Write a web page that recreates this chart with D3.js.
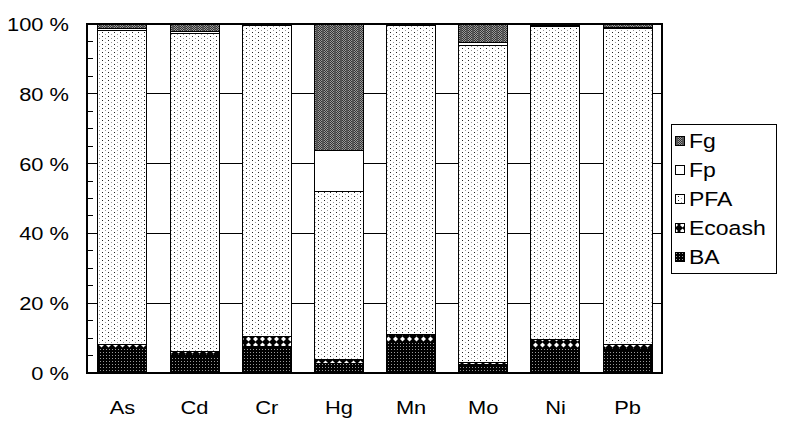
<!DOCTYPE html>
<html><head><meta charset="utf-8">
<script src="https://cdn.jsdelivr.net/npm/d3@7"></script>
<style>body{margin:0;background:#fff}svg{display:block}text{font-family:"Liberation Sans",Arial,sans-serif;fill:#000}</style>
</head><body><svg id="c" width="790" height="431"></svg>
<script>
const categories = ["As","Cd","Cr","Hg","Mn","Mo","Ni","Pb"];
const seriesNames = ["BA","Ecoash","PFA","Fp","Fg"];
const BA     = [7.1, 4.9, 7.5, 2.8, 8.8, 2.3, 7.1, 6.6];
const Ecoash = [1.0, 1.2, 2.9, 1.1, 2.1, 0.8, 2.4, 1.6];
const PFA    = [90.1,91.1,89.3,48.1,88.8,90.7,89.8,90.4];
const Fp     = [0.4, 0.6, 0.1, 11.7,0.1, 1.0, 0.2, 0.5];
const Fg     = [1.4, 2.2, 0.2, 36.3,0.2, 5.2, 0.5, 0.9];
const yTicks = [0,20,40,60,80,100];
const legendOrder = ["Fg","Fp","PFA","Ecoash","BA"];

const rows = categories.map((c,i)=>({cat:c,BA:BA[i],Ecoash:Ecoash[i],PFA:PFA[i],Fp:Fp[i],Fg:Fg[i]}));
const svg = d3.select("#c");
const L=87,R=662,T=24,B=373;
const x = d3.scaleBand().domain(categories).range([L,R+1]).paddingInner(0.32).paddingOuter(0.15);
const y = d3.scaleLinear().domain([0,100]).range([B,T]);

const defs = svg.append("defs");
function pat(id,w,h,bg,dots){
  const p=defs.append("pattern").attr("id",id).attr("patternUnits","userSpaceOnUse").attr("width",w).attr("height",h);
  p.append("rect").attr("width",w).attr("height",h).attr("fill",bg);
  dots.forEach(d=>p.append("rect").attr("x",d[0]).attr("y",d[1]).attr("width",d[2]||1).attr("height",d[3]||1).attr("fill",d[4]));
}
pat("pBA",3,3,"#000",[[1,1,1,1,"#9a9a9a"]]);
pat("pPFA",6,4,"#fff",[[0,0,1,1,"#222"],[3,2,1,1,"#999"]]);
pat("pFg",6,2,"#9a9a9a",[[0,0,1,1,"#333"],[1,1,1,1,"#333"],[2,0,1,1,"#333"],[3,1,1,1,"#333"],[4,0,2,2,"#555"]]);
const eco=defs.append("pattern").attr("id","pEco").attr("patternUnits","userSpaceOnUse").attr("width",7).attr("height",6);
eco.append("rect").attr("width",7).attr("height",6).attr("fill","#000");
eco.append("path").attr("d","M3.5,0.5 L6,3 L3.5,5.5 L1,3 Z").attr("fill","#fff");
const fills={BA:"url(#pBA)",Ecoash:"url(#pEco)",PFA:"url(#pPFA)",Fp:"#fff",Fg:"url(#pFg)"};

// gridlines
svg.append("g").selectAll("line").data(yTicks.filter(t=>t>0&&t<100)).join("line")
  .attr("x1",L).attr("x2",R).attr("y1",d=>y(d)).attr("y2",d=>y(d)).attr("stroke","#000").attr("stroke-width",1).attr("shape-rendering","crispEdges");

const stack = d3.stack().keys(seriesNames)(rows);
svg.append("g").selectAll("g").data(stack).join("g").attr("fill",d=>fills[d.key])
  .selectAll("rect").data(d=>d).join("rect")
  .attr("x",d=>x(d.data.cat)).attr("width",x.bandwidth())
  .attr("y",d=>y(d[1])).attr("height",d=>y(d[0])-y(d[1]))
  .attr("stroke","#000").attr("stroke-width",1).attr("shape-rendering","crispEdges");

// frame
svg.append("rect").attr("x",L).attr("y",T).attr("width",R-L).attr("height",B-T).attr("fill","none").attr("stroke","#000").attr("stroke-width",1.3).attr("shape-rendering","crispEdges");
// minor ticks inside
const minor=d3.range(0,101,5).filter(v=>v%20!==0);
svg.append("g").selectAll("line").data(minor).join("line")
  .attr("x1",L).attr("x2",L+6).attr("y1",d=>y(d)).attr("y2",d=>y(d)).attr("stroke","#000").attr("shape-rendering","crispEdges");

// y labels
svg.append("g").selectAll("text").data(yTicks).join("text")
  .attr("transform",d=>`translate(69,${y(d)+7}) scale(1.15,1)`).attr("text-anchor","end").attr("font-size",19).text(d=>d+" %");
// x labels
svg.append("g").selectAll("text").data(categories).join("text")
  .attr("transform",d=>`translate(${x(d)+x.bandwidth()/2},${414}) scale(1.15,1)`).attr("text-anchor","middle").attr("font-size",19).text(d=>d);

// legend
const lg=svg.append("g");
lg.append("rect").attr("x",671).attr("y",124).attr("width",105).attr("height",149).attr("fill","#fff").attr("stroke","#000").attr("shape-rendering","crispEdges");
legendOrder.forEach((k,i)=>{
  const cy=141+i*29;
  lg.append("rect").attr("x",675).attr("y",cy-5).attr("width",9).attr("height",9).attr("fill",fills[k]).attr("stroke","#000").attr("shape-rendering","crispEdges");
  lg.append("text").attr("transform",`translate(689,${cy+7}) scale(1.18,1)`).attr("font-size",19.5).text(k);
});
</script></body></html>
